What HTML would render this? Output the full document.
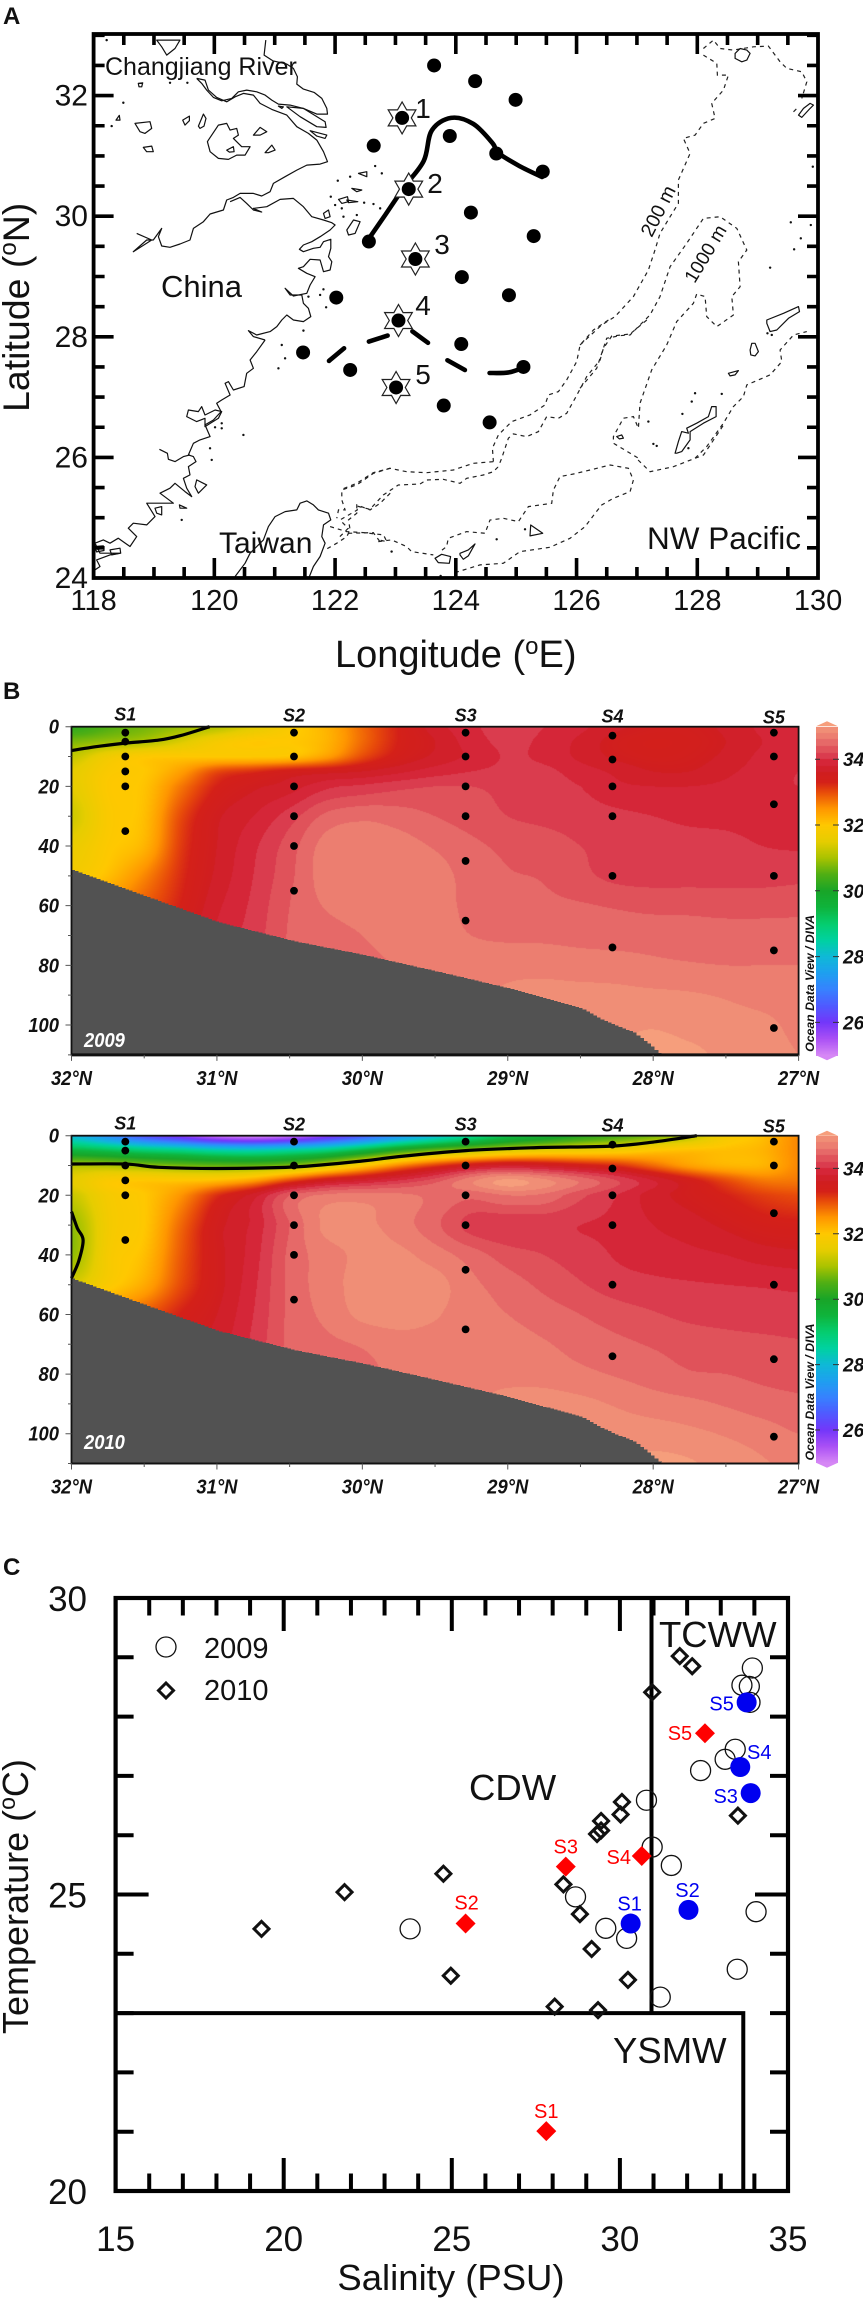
<!DOCTYPE html>
<html lang="en">
<head>
<meta charset="utf-8">
<title>Salinity sections and T-S diagram</title>
<style>
html,body{margin:0;padding:0;background:#fff;}
#page{position:relative;width:863px;height:2299px;overflow:hidden;background:#fff;}
canvas{position:absolute;display:block;}
#main{position:absolute;left:0;top:0;}
text{font-family:"Liberation Sans",sans-serif;fill:#111;}
.sec{font-style:italic;font-weight:bold;}
</style>
</head>
<body>
<div id="page">
<canvas id="field09" width="727" height="328" style="left:72px;top:727px"></canvas>
<canvas id="bar09" width="22" height="329" style="left:816px;top:727px"></canvas>
<canvas id="field10" width="727" height="327" style="left:72px;top:1136px"></canvas>
<canvas id="bar10" width="22" height="327" style="left:816px;top:1136px"></canvas>
<svg id="main" width="863" height="2299" viewBox="0 0 863 2299" xmlns="http://www.w3.org/2000/svg">
<defs><clipPath id="mapClip"><rect x="93.6" y="34" width="724.4" height="544"/></clipPath></defs>

<text x="3" y="24" font-size="24" font-weight="bold">A</text>
<text x="3" y="699" font-size="24" font-weight="bold">B</text>
<text x="3" y="1575" font-size="24" font-weight="bold">C</text>

<g id="mapBase" clip-path="url(#mapClip)"></g>
<g id="mapMarks"></g>
<g id="mapAxes"></g>
<g>
<text x="105" y="75" font-size="25">Changjiang River</text>
<text x="161" y="297" font-size="31">China</text>
<text x="219" y="553" font-size="30">Taiwan</text>
<text x="647" y="549" font-size="31.5">NW Pacific</text>
<text transform="translate(664,214) rotate(-63)" text-anchor="middle" font-size="19.5">200 m</text>
<text transform="translate(711,257) rotate(-59)" text-anchor="middle" font-size="19">1000 m</text>
<text x="423" y="118" text-anchor="middle" font-size="28">1</text>
<text x="435" y="193" text-anchor="middle" font-size="28">2</text>
<text x="442" y="254" text-anchor="middle" font-size="28">3</text>
<text x="423" y="315" text-anchor="middle" font-size="28">4</text>
<text x="423" y="384" text-anchor="middle" font-size="28">5</text>
<text x="335" y="667" font-size="38">Longitude (<tspan font-size="24" dy="-13">o</tspan><tspan dy="13">E)</tspan></text>
<text transform="translate(29,412) rotate(-90)" font-size="37.5">Latitude (<tspan font-size="24" dy="-13">o</tspan><tspan dy="13">N)</tspan></text>
</g>

<g id="sec09"></g>
<g id="sec10"></g>

<g id="ts"></g>
<g>
<text x="659" y="1647" font-size="36.5">TCWW</text>
<text x="469" y="1800" font-size="36.5">CDW</text>
<text x="613" y="2063" font-size="36.5">YSMW</text>
<text x="204" y="1658" font-size="29">2009</text>
<text x="204" y="1700" font-size="29">2010</text>
<circle cx="166" cy="1647" r="10" fill="none" stroke="#111" stroke-width="1.3"/>
<path d="M166 1683L173.500 1690.500L166 1698L158.500 1690.500Z" fill="none" stroke="#111" stroke-width="3"/>
<text x="451" y="2290" text-anchor="middle" font-size="36.500">Salinity (PSU)</text>
<text transform="translate(28,2034) rotate(-90)" font-size="36">Temperature (<tspan font-size="23" dy="-13">o</tspan><tspan dy="13">C)</tspan></text>
</g>
</svg>
</div>

<script>
/* ============ Panel C data ============ */
const sal2009 = [23.76,28.68,29.58,30.2,30.79,30.96,31.53,31.2,32.4,33.13,33.43,33.94,33.63,33.85,33.87,34.05,33.49];
const tem2009 = [24.42,24.96,24.43,24.26,26.59,25.8,25.49,23.27,27.09,27.28,27.45,28.82,28.53,28.51,28.24,24.71,23.74];
const sal2010 = [19.34,21.81,24.75,24.97,28.06,29.35,28.32,28.81,29.16,30.24,29.32,29.44,29.44,30.02,30.06,30.96,31.78,32.15,33.51];
const tem2010 = [24.42,25.04,25.35,23.63,23.11,23.05,25.17,24.67,24.08,23.56,26.02,26.08,26.24,26.35,26.56,28.41,29.02,28.85,26.33];
const stationNames = ["S1","S2","S3","S4","S5"];
const salS2010 = [27.81,25.41,28.39,30.65,32.53];
const temS2010 = [21.01,24.51,25.47,25.65,27.72];
const salS2009 = [30.32,32.04,33.89,33.58,33.77];
const temS2009 = [24.51,24.74,26.71,27.15,28.24];
const tsXLabels = [15,20,25,30,35];
const tsYLabels = [20,25,30];

/* ============ Panel A data (degrees) ============ */
const stationLon = [123.64,124.32,124.99,123.11,122.64,123.90,124.67,125.44,123.22,122.56,124.25,125.29,123.33,124.10,124.88,122.02,123.05,124.09,125.12,121.47,122.25,123.01,123.80,124.56];
const stationLat = [32.50,32.24,31.93,31.63,31.17,31.33,31.04,30.74,30.45,29.58,30.06,29.67,29.29,28.99,28.69,28.65,28.27,27.88,27.50,27.74,27.45,27.16,26.86,26.58];
const starIndex = [3,8,12,16,21];
const frontSolidLon = [122.54,122.83,123.15,123.47,123.60,123.92,124.29,124.61,124.70,125.06,125.43];
const frontSolidLat = [29.60,30.02,30.49,30.92,31.42,31.63,31.53,31.21,31.05,30.83,30.65];
const frontDashLon = [[121.90,122.15],[122.56,122.87],[123.28,123.54],[123.86,124.15],[124.56,124.88,125.15]];
const frontDashLat = [[27.60,27.81],[27.92,28.02],[28.09,27.90],[27.61,27.45],[27.40,27.41,27.50]];
const mapLonLabels = [118,120,122,124,126,128,130];
const mapLatLabels = [24,26,28,30,32];

/* Geography: offsets in 1/181 degree from a sheet origin (lon, lat) */
const GEO_UNITS = 181;
const sheets = {nw:[117.94,32.92], sw:[117.94,27.947], se:[122.08,26.62], ne:[126.057,32.92], mid:[123.572,28.279]};
const coastLines = [
 ["nw",[527,0,522,45,548,62,590,72,610,85,622,110,620,132,640,147,672,157,695,175,710,205,712,222,680,222,640,205,600,195,565,192,545,180,525,165,500,155,470,150,445,155,425,175,395,182,370,172,350,150,335,130,320,115]],
 ["nw",[320,115,345,120,355,150,380,172,410,185,435,170,460,160,490,165,510,190,545,208,590,225,620,260,655,280,680,300,700,335,712,365,690,372,650,375,620,390,585,410,550,430,540,455,515,468,490,460,450,460,430,472,410,480,400,510,360,522,340,545,310,565,300,600,270,612,240,622,215,618,205,590,215,565,190,600,170,600,130,635,185,600,140,580]],
 ["nw",[420,485,450,472,470,490,490,510,515,516,490,505,530,500,570,478,610,475,640,500,665,530,700,540,725,548,735,555,720,570,690,590,665,605,640,615,628,628,640,635,670,625,690,622,700,605,722,598,722,625,715,650,725,665,720,690,700,695,690,660,660,658,640,680,625,685,650,700,675,710,660,735,650,760,610,768,585,745,600,765,635,765,640,790,655,805,662,830,640,845,610,840,590,825,575,840,560,860,540,875,500,885,475,872,490,890,525,900]],
 ["sw",[525,0,500,35,480,60,490,85,470,100,462,140,430,150,415,125,405,130,420,165,395,180,380,190,393,215,370,240,345,255,360,290,330,300,310,310,295,345,310,350,318,365,295,380,300,405,280,415,290,445,305,470,285,455,255,430,240,445,210,460,250,490,220,490,200,490,170,490,195,530,170,555,130,550,115,565,140,590,120,620,85,595,60,610,40,600,15,610,30,640,60,640,90,640,60,645,20,660,30,680,8,695]],
 ["sw",[208,328,232,340,235,358,255,365,280,350,300,345]],
 ["sw",[435,710,465,670,480,640,520,600,535,560,555,530,585,515,620,510,630,490,650,483,670,495,685,510,715,520,722,540,700,555,695,590,705,610,690,650,670,680,658,710]]
];
const islands = [
 ["nw",[145,130,158,128,155,140,147,140]],["nw",[135,250,180,245,185,265,165,280,150,275]],["nw",[160,322,185,318,190,335,170,335]],
 ["nw",[278,240,298,228,298,242,285,255]],["nw",[325,258,340,222,348,235,342,258,330,265]],
 ["nw",[355,300,385,255,410,250,420,270,440,265,445,285,430,295,455,320,480,320,465,345,440,345,415,358,385,355,360,335,352,305]],
 ["nw",[410,330,430,320,432,335,418,336]],["nw",[490,285,510,262,530,275,510,285]],["nw",[525,338,545,315,555,330,535,338]],
 ["nw",[78,240,88,226,90,240]],["nw",[590,200,640,205,705,245,708,262,680,260,630,230]],["nw",[660,272,710,285,705,295,680,288]],
 ["nw",[565,198,580,200,575,205]],["nw",[785,445,815,450,800,455]],["nw",[745,478,772,470,775,485,755,490]],["nw",[700,520,715,510,720,530,705,535]],
 ["nw",[770,480,803,485,775,488]],["nw",[770,570,790,540,810,545,795,580,775,585]],["nw",[215,20,200,0,270,0,255,25,230,45]],["nw",[805,400,830,395,830,410]],
 ["sw",[290,230,295,210,325,215,335,200,345,225,375,210,395,215,385,235,345,260,345,235,320,245]],["sw",[320,420,340,430,350,435,325,460,315,440]],
 ["sw",[268,495,290,505,270,505]],["sw",[60,630,90,625,92,640,65,645]],["sw",[15,620,40,618,42,632,20,636]],["sw",[195,505,215,500,215,525,200,520]],
 ["se",[285,415,305,403,332,410,328,430,295,428]],["se",[360,400,385,390,405,372,385,408,370,418,360,405]],["se",[572,315,608,340,570,348]],
 ["ne",[285,1240,295,1205,305,1175,325,1180,320,1165,350,1150,385,1130,395,1100,408,1100,408,1130,370,1150,330,1175,330,1200,305,1235,290,1240]],
 ["ne",[560,850,560,840,610,820,655,800,658,815,625,835,590,870,570,875]],["ne",[510,930,515,910,525,910,535,935,525,948,512,945]],
 ["ne",[445,1000,475,992,465,1005,450,1008]],["ne",[110,1190,125,1185,130,1195,118,1197]],["ne",[655,225,670,205,690,190,700,195,690,205,665,232]],
 ["ne",[465,40,480,25,500,30,510,40,500,60,485,65,465,55]]
];
const islets = [
 ["nw",[743,422,780,410,855,378,875,400,822,488,850,492,870,505,722,470,755,505,735,495,760,530,800,525,655,770,690,765,700,748,708,802,640,872,240,128,292,128,100,188,65,258,50,0]],
 ["sw",[275,540,360,325,365,360,460,285,395,265,375,262,565,85,585,55,395,250,575,15,30,625,25,628]],
 ["se",[155,395,470,358,555,328,302,468]],
 ["ne",[345,1060,335,1085,425,1062,205,1145,307,1122,220,1212,230,1218,570,683,642,628,662,595,692,555,632,547,698,380,562,880,575,885,325,1225]]
];
const isobaths = [
 ["ne",[370,45,410,70,412,105,445,105,430,150,395,190,405,235,370,250,345,285,310,295,330,340,295,420,295,490,270,530,240,580,225,630,205,690,160,770,105,830,65,855,0,915]],
 ["ne",[0,1045,50,985,80,895,120,887,150,885,210,825,240,770,270,680,320,610,370,535,420,530,470,565,500,630,475,665,480,740,455,770,460,825,410,860,380,830,375,770,350,762,340,790,290,845,260,915,215,990,180,1090,175,1165,160,1130,130,1135,100,1190,100,1210,175,1255]],
 ["ne",[345,1255,380,1220,430,1150,460,1100,490,1070,500,1035,570,1005,605,965,600,930,640,885,680,875]],
 ["ne",[370,25,400,0,420,25,460,30,520,20,565,18,600,65,620,85,665,95,680,125,665,175]],
 ["ne",[640,215,655,200]],
 ["mid",[650,0,600,42,545,48,520,85,510,120,470,170,435,235,410,280,385,295,350,290,325,335,290,350,250,342,235,355,215,415,205,440]],
 ["mid",[535,0,490,30,450,75,440,125,410,180,385,215,355,225,345,255,300,285,245,305,205,345,187,385,190,425]],
 ["se",[460,125,400,130,340,150,260,158,200,155,150,145,100,158,50,190,0,210]],
 ["se",[474,141,460,155,430,165,380,175,360,190,310,178,260,180,240,192,175,195,130,225,90,268,50,258,52,270,0,300]],
 ["se",[345,458,420,435,490,430,540,395,630,382,690,355,735,320,765,280,785,255,820,235,870,215,880,180,865,145,810,135,750,150,700,162,660,170,640,210,635,250,565,260,535,305,490,295,450,300,435,340,380,335,325,355,320,380,300,395]],
 ["se",[115,365,155,360,200,380,215,395,280,405]],
 ["se",[25,340,100,338,120,365]],
 ["se",[0,350,25,325,0,300]],
 ["se",[894,120,930,155,1000,140,1090,105,1150,15]],
 ["sw",[900,385,850,400,800,435,755,450,755,480,765,510,745,510,740,535]],
 ["sw",[900,460,870,490,840,510,800,495,800,520,775,540,780,570,770,590,740,610,705,630]],
 ["sw",[720,560,770,575,820,578,880,585,890,605,865,600]]
];

/* ============ Panel B data ============ */
const gridLats = [32,31.75,31.5,31.25,31,30.75,30.5,30.25,30,29.75,29.5,29.25,29,28.75,28.5,28.25,28,27.75,27.5,27.25,27];
const gridDepths = [0,5,10,15,20,30,40,50,60,70,80,90,100,110];
const salinity2009 = [
[30.2,30.5,30.7,30.9,31.1,31.5,31.9,32.2,32.8,33.3,33.7,33.95,34.1,34.0,33.85,33.65,33.5,33.5,33.65,33.85,34.0],
[30.75,30.9,31.05,31.4,31.8,32.0,32.0,32.2,32.8,33.3,33.6,33.9,34.05,33.95,33.75,33.5,33.4,33.45,33.6,33.8,33.95],
[31.2,31.7,31.95,32,32,32,32.05,32.4,33.0,33.4,33.65,33.85,34.02,33.95,33.75,33.55,33.45,33.5,33.65,33.85,33.95],
[31.5,31.9,32,32.4,33,33.2,33.4,33.5,33.6,33.75,33.9,34.0,34.05,34.05,33.9,33.75,33.6,33.6,33.75,33.9,34.0],
[31.5,31.95,32.05,32.7,33.3,33.55,33.7,33.95,34.05,34.15,34.2,34.2,34.15,34.1,34.0,33.85,33.8,33.8,33.85,33.95,34.0],
[31.3,31.9,32.1,33.0,33.55,33.8,34.1,34.45,34.55,34.5,34.4,34.3,34.2,34.15,34.1,34.05,34.0,33.95,33.95,33.95,33.95],
[31.6,31.95,32.2,33.1,33.6,33.95,34.3,34.68,34.72,34.68,34.58,34.45,34.35,34.3,34.2,34.15,34.1,34.08,34.05,34.0,33.98],
[31.8,32.1,32.6,33.2,33.65,34.0,34.35,34.7,34.75,34.72,34.68,34.52,34.42,34.38,34.25,34.15,34.12,34.12,34.12,34.12,34.15],
[32.4,32.6,32.9,33.3,33.75,34.05,34.4,34.62,34.72,34.72,34.68,34.55,34.5,34.45,34.42,34.38,34.35,34.35,34.33,34.33,34.33],
[33.0,33.0,33.2,33.5,33.85,34.1,34.42,34.5,34.6,34.7,34.68,34.6,34.56,34.55,34.52,34.5,34.5,34.48,34.48,34.48,34.5],
[33.8,33.8,33.8,33.9,33.95,34.2,34.42,34.5,34.55,34.62,34.72,34.72,34.75,34.75,34.72,34.7,34.65,34.62,34.6,34.6,34.6],
[34,34,34,34,34,34.2,34.4,34.5,34.6,34.7,34.75,34.78,34.82,34.84,34.85,34.85,34.84,34.82,34.78,34.72,34.68],
[34,34,34,34,34,34.2,34.4,34.5,34.6,34.7,34.75,34.8,34.85,34.9,34.92,34.95,34.98,34.92,34.88,34.85,34.75],
[34,34,34,34,34,34.2,34.4,34.5,34.6,34.7,34.75,34.8,34.85,34.9,34.95,35.0,35.1,35.05,34.95,34.88,34.8]
];
const salinity2010 = [
[28.0,27.2,26.4,25.8,25.2,25.0,25.2,25.8,26.5,27.3,28.0,28.7,29.3,29.7,30.1,30.4,30.7,31.1,31.8,32.1,32.6],
[29.5,29.3,29.0,28.8,28.5,28.4,28.6,28.9,29.5,30.2,30.7,31.05,31.4,31.6,31.7,31.8,32.0,32.1,32.1,32.2,32.6],
[31.05,31.0,30.85,30.7,30.6,30.6,30.8,31.3,31.95,32.6,33.1,33.5,33.7,33.6,33.4,33.2,32.8,32.4,32.2,32.2,32.6],
[31.5,31.9,32,32,32.1,32.4,33.0,33.5,33.75,34.0,34.3,34.75,35.05,34.85,34.55,34.2,33.8,33.4,33.0,32.7,32.7],
[31.25,31.8,32,32.5,33.2,33.7,34.4,34.65,34.7,34.65,34.55,34.45,34.6,34.55,34.25,34.0,33.7,33.5,33.3,33.1,33.0],
[30.85,31.75,32.0,32.8,33.5,33.85,34.4,34.85,34.85,34.7,34.45,34.12,34.05,34.05,34.0,33.95,33.8,33.7,33.55,33.4,33.35],
[30.85,31.8,32.1,32.9,33.5,33.9,34.45,34.7,34.85,34.85,34.7,34.5,34.3,34.2,34.1,33.98,33.9,33.85,33.8,33.7,33.65],
[31.4,31.9,32.3,33.0,33.5,33.95,34.45,34.7,34.88,34.9,34.88,34.65,34.5,34.35,34.22,34.1,34.05,34.02,34.0,33.98,33.95],
[32.4,32.6,32.9,33.3,33.6,34.0,34.45,34.65,34.85,34.88,34.82,34.68,34.6,34.5,34.4,34.3,34.22,34.15,34.12,34.1,34.1],
[33,33,33.2,33.5,33.7,34.05,34.45,34.55,34.62,34.72,34.72,34.7,34.68,34.62,34.52,34.45,34.38,34.32,34.28,34.25,34.22],
[33.8,33.8,33.8,33.8,33.8,34.1,34.45,34.5,34.55,34.65,34.72,34.75,34.75,34.72,34.65,34.58,34.5,34.42,34.4,34.35,34.32],
[34,34,34,34,34,34.2,34.4,34.5,34.6,34.7,34.75,34.78,34.85,34.88,34.85,34.78,34.7,34.65,34.58,34.5,34.45],
[34,34,34,34,34,34.2,34.4,34.5,34.6,34.7,34.75,34.8,34.85,34.88,34.9,34.9,34.9,34.85,34.78,34.7,34.6],
[34,34,34,34,34,34.2,34.4,34.5,34.6,34.7,34.75,34.8,34.85,34.9,34.95,35.0,35.05,35.02,34.92,34.82,34.75]
];
const seabedLat = [32,31.5,31,30.47,30,29.5,29,28.5,28.365,28.25,28.14,28.02,27.95];
const seabedDepth = [48,56.8,65.5,72,76.5,82,87.7,94.4,98,100.5,102.5,107,110];
const sectionStationLat = [31.63,30.47,29.29,28.28,27.17];
const sectionStationDepths = [[2,5,10,15,20,35],[2,10,20,30,40,55],[2,10,20,30,45,65],[3,11,20,30,50,74],[2,10,26,50,75,101]];
const contour2009Lat = [32,31.8,31.63,31.4,31.25,31.05];
const contour2009Depth = [8,6.5,5.5,4.5,3,0];
const contour2010Lat = [32,31.63,31.4,31,30.47,30,29.75,29.29,28.8,28.28,27.98,27.7];
const contour2010Depth = [9.5,9.5,10.6,11,10.5,8.5,7,5,4,3.5,2,0];
const lens2010Lat = [32,31.96,31.92,31.95,32];
const lens2010Depth = [25.5,31,35,42,47.8];
const depthLabels = [0,20,40,60,80,100];
const latLabels = [32,31,30,29,28,27];
const barLabels = [34,32,30,28,26];

/* ============ Colour scale ============ */
const scaleVal = [25,25.5,26,26.5,27,27.5,28,28.5,29,29.5,30,30.5,31,31.5,32,32.5,33,33.3,33.6];
const scaleRGB = [[214,135,245],[170,80,245],[115,55,250],[80,90,255],[55,130,255],[30,160,240],[15,185,215],[0,210,160],[5,205,110],[15,180,60],[25,165,40],[80,175,20],[170,195,0],[230,205,0],[255,200,0],[255,150,0],[232,75,10],[212,32,25],[208,30,32]];
const bandFloor = [33.6,33.8,34.0,34.2,34.4,34.6,34.8,35.0];
const bandRGB = [[209,32,42],[213,38,56],[218,60,78],[224,82,90],[230,105,104],[236,126,112],[240,142,118],[246,158,124]];
function colorOf(v){
  if(v>=33.6){
    let k=0;
    for(let i=0;i<bandFloor.length;i++) if(v>=bandFloor[i]) k=i;
    return bandRGB[k];
  }
  if(v<=25) return scaleRGB[0];
  for(let i=0;i<scaleVal.length-1;i++){
    if(v<=scaleVal[i+1]){
      const t=(v-scaleVal[i])/(scaleVal[i+1]-scaleVal[i]),a=scaleRGB[i],b=scaleRGB[i+1];
      return [a[0]+(b[0]-a[0])*t,a[1]+(b[1]-a[1])*t,a[2]+(b[2]-a[2])*t];
    }
  }
  return scaleRGB[scaleRGB.length-1];
}

/* ============ Helpers ============ */
const NS="http://www.w3.org/2000/svg";
function mk(parent,tag,attrs,txt){
  const e=document.createElementNS(NS,tag);
  for(const k in attrs) e.setAttribute(k,attrs[k]);
  if(txt!==undefined) e.textContent=txt;
  parent.appendChild(e);
  return e;
}
function smooth(p){
  let d="M"+p[0][0].toFixed(1)+" "+p[0][1].toFixed(1);
  for(let i=0;i<p.length-1;i++){
    const a=p[Math.max(i-1,0)],b=p[i],c=p[i+1],e=p[Math.min(i+2,p.length-1)];
    d+="C"+(b[0]+(c[0]-a[0])/6).toFixed(1)+" "+(b[1]+(c[1]-a[1])/6).toFixed(1)+" "+(c[0]-(e[0]-b[0])/6).toFixed(1)+" "+(c[1]-(e[1]-b[1])/6).toFixed(1)+" "+c[0].toFixed(1)+" "+c[1].toFixed(1);
  }
  return d;
}
function cr(p0,p1,p2,p3,t){
  return p1+0.5*t*(p2-p0+t*(2*p0-5*p1+4*p2-p3+t*(3*(p1-p2)+p3-p0)));
}

/* ============ Panel A ============ */
const lonX=l=>93.6+(l-118)*60.37;
const latY=l=>578-(l-24)*60.3;
function geoPts(sheet,flat){
  const o=sheets[sheet],out=[];
  for(let i=0;i<flat.length;i+=2) out.push([lonX(o[0]+flat[i]/GEO_UNITS),latY(o[1]-flat[i+1]/GEO_UNITS)]);
  return out;
}
function polyD(p,closed){
  return "M"+p.map(q=>q[0].toFixed(1)+" "+q[1].toFixed(1)).join("L")+(closed?"Z":"");
}
const base=document.getElementById("mapBase");
isobaths.forEach(tr=>{
  const el=mk(base,"path",{d:polyD(geoPts(tr[0],tr[1])),fill:"none",stroke:"#222","stroke-width":1.2,"stroke-dasharray":"4 4"});
  
  
});
coastLines.forEach(tr=>{
  const el=mk(base,"path",{d:polyD(geoPts(tr[0],tr[1])),fill:"none",stroke:"#111","stroke-width":1.2,"stroke-linejoin":"round"});
  
  
});
islands.forEach(tr=>{
  const el=mk(base,"path",{d:polyD(geoPts(tr[0],tr[1]),true),fill:"none",stroke:"#111","stroke-width":1.2,"stroke-linejoin":"round"});
  
  
});
islets.forEach(tr=>{
  geoPts(tr[0],tr[1]).forEach(q=>{
    const el=mk(base,"circle",{cx:q[0],cy:q[1],r:1.2,fill:"#111"});
    
    
  });
});
const marks=document.getElementById("mapMarks");
const solidFront=mk(marks,"path",{d:smooth(frontSolidLon.map((v,i)=>[lonX(v),latY(frontSolidLat[i])])),fill:"none",stroke:"#000","stroke-width":4.6,"stroke-linecap":"round"});


frontDashLon.forEach((arr,j)=>{
  const el=mk(marks,"path",{d:smooth(arr.map((v,i)=>[lonX(v),latY(frontDashLat[j][i])])),fill:"none",stroke:"#000","stroke-width":4.6,"stroke-linecap":"round"});
  
  
});
starIndex.forEach(i=>{
  const cx=lonX(stationLon[i]),cy=latY(stationLat[i]),pts=[];
  for(let k=0;k<12;k++){
    const r=k%2?9.2:16,a=-Math.PI/2+k*Math.PI/6;
    pts.push((cx+r*Math.cos(a)).toFixed(1)+","+(cy+r*Math.sin(a)).toFixed(1));
  }
  const el=mk(marks,"polygon",{points:pts.join(" "),fill:"#fff",stroke:"#222","stroke-width":1.2});
  
  
});
stationLon.forEach((v,i)=>{
  const el=mk(marks,"circle",{cx:lonX(v),cy:latY(stationLat[i]),r:7,fill:"#000"});
  
  
});
const mapAxes=document.getElementById("mapAxes");
let td="";
for(let l=118;l<=130;l+=0.5){
  if(l===118||l===130) continue;
  const len=(l%2===0)?20:11,x=lonX(l);
  td+="M"+x+" 34V"+(34+len)+"M"+x+" 578V"+(578-len);
}
for(let a=24;a<=33;a+=0.5){
  if(a===24) continue;
  const len=(a%2===0)?20:11,y=latY(a);
  td+="M93.6 "+y+"H"+(93.6+len)+"M818 "+y+"H"+(818-len);
}
const mapTicks=mk(mapAxes,"path",{d:td,stroke:"#000","stroke-width":3.6,fill:"none"});


const mapFrame=mk(mapAxes,"rect",{x:93.6,y:34,width:724.4,height:544,fill:"none",stroke:"#000","stroke-width":3.8});


mapLonLabels.forEach(v=>{
  const el=mk(mapAxes,"text",{x:lonX(v),y:610,"text-anchor":"middle","font-size":29},String(v));
  
  
});
mapLatLabels.forEach(v=>{
  const el=mk(mapAxes,"text",{x:88,y:latY(v)+10,"text-anchor":"end","font-size":30},String(v));
  
  
});

/* ============ Panel B ============ */
const latX=l=>71.5+(32-l)*145.42;
function drawField(canvasId,grid,top,scale){
  const cv=document.getElementById(canvasId),ctx=cv.getContext("2d"),W=cv.width,H=cv.height;
  const img=ctx.createImageData(W,H),nC=gridLats.length,nR=gridDepths.length;
  const rowOf=new Float64Array(H);
  const topInt=cv.offsetTop;
  for(let y=0;y<H;y++){
    const d=Math.max(0,Math.min(110,(topInt+y+0.5-top)/scale));
    let i=0;
    while(i<nR-2&&d>gridDepths[i+1]) i++;
    rowOf[y]=i+(d-gridDepths[i])/(gridDepths[i+1]-gridDepths[i]);
  }
  const rowVals=new Float64Array(nC);
  for(let y=0;y<H;y++){
    const r=rowOf[y],ri=Math.min(nR-2,Math.floor(r)),rt=r-ri;
    const r0=grid[Math.max(ri-1,0)],r1=grid[ri],r2=grid[ri+1],r3=grid[Math.min(ri+2,nR-1)];
    for(let c=0;c<nC;c++) rowVals[c]=cr(r0[c],r1[c],r2[c],r3[c],rt);
    for(let x=0;x<W;x++){
      const lat=32-(72+x+0.5-71.5)/145.42;
      const cf=Math.max(0,Math.min(nC-1,(32-lat)/0.25)),ci=Math.min(nC-2,Math.floor(cf)),ct=cf-ci;
      const v=cr(rowVals[Math.max(ci-1,0)],rowVals[ci],rowVals[ci+1],rowVals[Math.min(ci+2,nC-1)],ct);
      const col=colorOf(v),p=(y*W+x)*4;
      img.data[p]=col[0];img.data[p+1]=col[1];img.data[p+2]=col[2];img.data[p+3]=255;
    }
  }
  ctx.putImageData(img,0,0);
}
function drawBar(canvasId,top,unit){
  const cv=document.getElementById(canvasId),ctx=cv.getContext("2d");
  for(let y=0;y<cv.height;y++){
    const v=35-(cv.offsetTop+y+0.5-top)/unit,c=colorOf(v);
    ctx.fillStyle="rgb("+Math.round(c[0])+","+Math.round(c[1])+","+Math.round(c[2])+")";
    ctx.fillRect(0,y,cv.width,1);
  }
}
function drawSection(groupId,top,scale,yearLabel,yearBaseline,barTop,barUnit,contours,bottomWidth){
  const g=document.getElementById(groupId);
  const depthY=d=>top+d*scale;
  const bottom=depthY(110);
  let pts=[];
  for(let x=71.5;x<=latX(seabedLat[seabedLat.length-1])+0.1;x+=3.6){
    const lat=32-(x-71.5)/145.42;
    let i=0;
    while(i<seabedLat.length-2&&lat<seabedLat[i+1]) i++;
    const t=(seabedLat[i]-lat)/(seabedLat[i]-seabedLat[i+1]);
    const d=seabedDepth[i]+(seabedDepth[i+1]-seabedDepth[i])*t;
    const y=depthY(d);
    pts.push(x.toFixed(1)+","+y.toFixed(1));
    pts.push((x+3.6).toFixed(1)+","+y.toFixed(1));
  }
  pts.push(latX(seabedLat[seabedLat.length-1]).toFixed(1)+","+bottom);
  pts.push("71.5,"+bottom);
  const bed=mk(g,"polygon",{points:pts.join(" "),fill:"#525252","shape-rendering":"crispEdges"});
  
  
  contours.forEach(cn=>{
    const el=mk(g,"path",{d:smooth(cn[0].map((v,i)=>[latX(v),depthY(cn[1][i])])),fill:"none",stroke:"#000","stroke-width":3.2});
    
    
  });
  sectionStationLat.forEach((lat,i)=>{
    sectionStationDepths[i].forEach(d=>{
      const el=mk(g,"circle",{cx:latX(lat),cy:depthY(d),r:3.9,fill:"#000"});
      
      
    });
    const sl=mk(g,"text",{x:latX(lat),y:top-[6,5,5,4,3][i],"text-anchor":"middle","font-size":18,"class":"sec"},stationNames[i]);
    
    
  });
  const frame=mk(g,"rect",{x:71.5,y:top,width:727.1,height:bottom-top,fill:"none",stroke:"#111","stroke-width":1.8});
  
  
  const floor=mk(g,"path",{d:"M71.5 "+bottom+"H798.6",stroke:"#111","stroke-width":bottomWidth,fill:"none"});
  
  
  let tk="";
  for(let d=0;d<=110;d+=10) tk+="M"+(d%20===0?65.5:68)+" "+depthY(d)+"H71.5";
  for(let a=32;a>=27;a-=0.5) tk+="M"+latX(a)+" "+bottom+"v"+(a%1===0?6:3.5);
  const ticks=mk(g,"path",{d:tk,stroke:"#555","stroke-width":1,fill:"none"});
  
  
  depthLabels.forEach(v=>{
    const el=mk(g,"text",{transform:"translate(59,"+(depthY(v)+7)+") scale(0.92,1)","text-anchor":"end","font-size":20,"class":"sec"},String(v));
    
    
  });
  latLabels.forEach(v=>{
    const el=mk(g,"text",{transform:"translate("+latX(v)+","+(bottom+30)+") scale(0.92,1)","text-anchor":"middle","font-size":20,"class":"sec"},v+"°N");
    
    
  });
  const yr=mk(g,"text",{transform:"translate(84,"+yearBaseline+") scale(0.92,1)","font-size":20,"class":"sec",style:"fill:#fff"},yearLabel);
  
  
  const odv=mk(g,"text",{transform:"translate(814,"+(bottom-3)+") rotate(-90)","font-size":12,"class":"sec",textLength:137,lengthAdjust:"spacingAndGlyphs"},"Ocean Data View / DIVA");
  
  
  const barBottom=barTop+10*barUnit;
  const ht=colorOf(35.1),hb=colorOf(25);
  const capTop=mk(g,"polygon",{points:"816,"+barTop+" 827,"+(barTop-5)+" 838,"+barTop,fill:"rgb("+ht.join(",")+")"});
  
  
  const capBot=mk(g,"polygon",{points:"816,"+barBottom+" 827,"+(barBottom+5)+" 838,"+barBottom,fill:"rgb("+hb.join(",")+")"});
  
  
  barLabels.forEach(v=>{
    const y=barTop+(35-v)*barUnit;
    const t=mk(g,"path",{d:"M815 "+y+"h5M833 "+y+"h6",stroke:"#333","stroke-width":1,fill:"none"});
    
    
    const el=mk(g,"text",{x:843,y:y+7,"font-size":19,"class":"sec"},String(v));
    
    
  });
}
drawField("field09",salinity2009,726.7,2.983);
drawBar("bar09",726.3,32.9);
drawField("field10",salinity2010,1135.7,2.98);
drawBar("bar10",1135.7,32.7);
drawSection("sec09",726.7,2.983,"2009",1047,726.3,32.9,[[contour2009Lat,contour2009Depth]],3);
drawSection("sec10",1135.7,2.98,"2010",1449,1135.7,32.7,[[contour2010Lat,contour2010Depth],[lens2010Lat,lens2010Depth]],1.8);

/* ============ Panel C ============ */
const salX=s=>115.6+(s-15)*33.62;
const temY=t=>1598+(30-t)*59.3;
const ts=document.getElementById("ts");
const frameC=mk(ts,"rect",{x:salX(15),y:temY(30),width:salX(35)-salX(15),height:temY(20)-temY(30),fill:"none",stroke:"#000","stroke-width":4.2});


let tc="";
for(let s=16;s<35;s++){
  const len=s%5===0?33:17.5,x=salX(s);
  tc+="M"+x+" "+temY(30)+"v"+len+"M"+x+" "+temY(20)+"v-"+len;
}
for(let t=21;t<30;t++){
  const len=t===25?33:18,y=temY(t);
  tc+="M"+salX(15)+" "+y+"h"+len+"M"+salX(35)+" "+y+"h-"+len;
}
const tsTicks=mk(ts,"path",{d:tc,stroke:"#000","stroke-width":4,fill:"none"});


const massLines=mk(ts,"path",{d:"M"+salX(30.94)+" "+temY(30)+"V"+temY(23)+"M"+salX(15)+" "+temY(23)+"H"+salX(33.67)+"V"+temY(20),stroke:"#000","stroke-width":4,fill:"none"});


tsXLabels.forEach(v=>{
  const el=mk(ts,"text",{x:salX(v),y:2251,"text-anchor":"middle","font-size":35},String(v));
  
  
});
tsYLabels.forEach(v=>{
  const el=mk(ts,"text",{x:87,y:temY(v)+13,"text-anchor":"end","font-size":35},String(v));
  
  
});
sal2009.forEach((s,i)=>{
  const el=mk(ts,"circle",{cx:salX(s),cy:temY(tem2009[i]),r:10,fill:"none",stroke:"#111","stroke-width":1.3});
  
  
});
function diamond(x,y,r){return "M"+x+" "+(y-r)+"L"+(x+r)+" "+y+"L"+x+" "+(y+r)+"L"+(x-r)+" "+y+"Z";}
sal2010.forEach((s,i)=>{
  const el=mk(ts,"path",{d:diamond(salX(s),temY(tem2010[i]),7.5),fill:"none",stroke:"#111","stroke-width":3});
  
  
});
const redDx=[0,1,0,-23,-25],redDy=[-13,-14,-13,8,7];
const blueDx=[-1,-1,-25,19,-25],blueDy=[-13,-13,10,-8,8];
salS2010.forEach((s,i)=>{
  const x=salX(s),y=temY(temS2010[i]);
  const el=mk(ts,"path",{d:diamond(x,y,10),fill:"#f00"});
  
  
  const lb=mk(ts,"text",{x:x+redDx[i],y:y+redDy[i],"text-anchor":"middle","font-size":20,style:"fill:#f00"},stationNames[i]);
  
  
});
salS2009.forEach((s,i)=>{
  const x=salX(s),y=temY(temS2009[i]);
  const el=mk(ts,"circle",{cx:x,cy:y,r:10,fill:"#0000f0"});
  
  
  const lb=mk(ts,"text",{x:x+blueDx[i],y:y+blueDy[i],"text-anchor":"middle","font-size":20,style:"fill:#0000f0"},stationNames[i]);
  
  
});
</script>
</body>
</html>
